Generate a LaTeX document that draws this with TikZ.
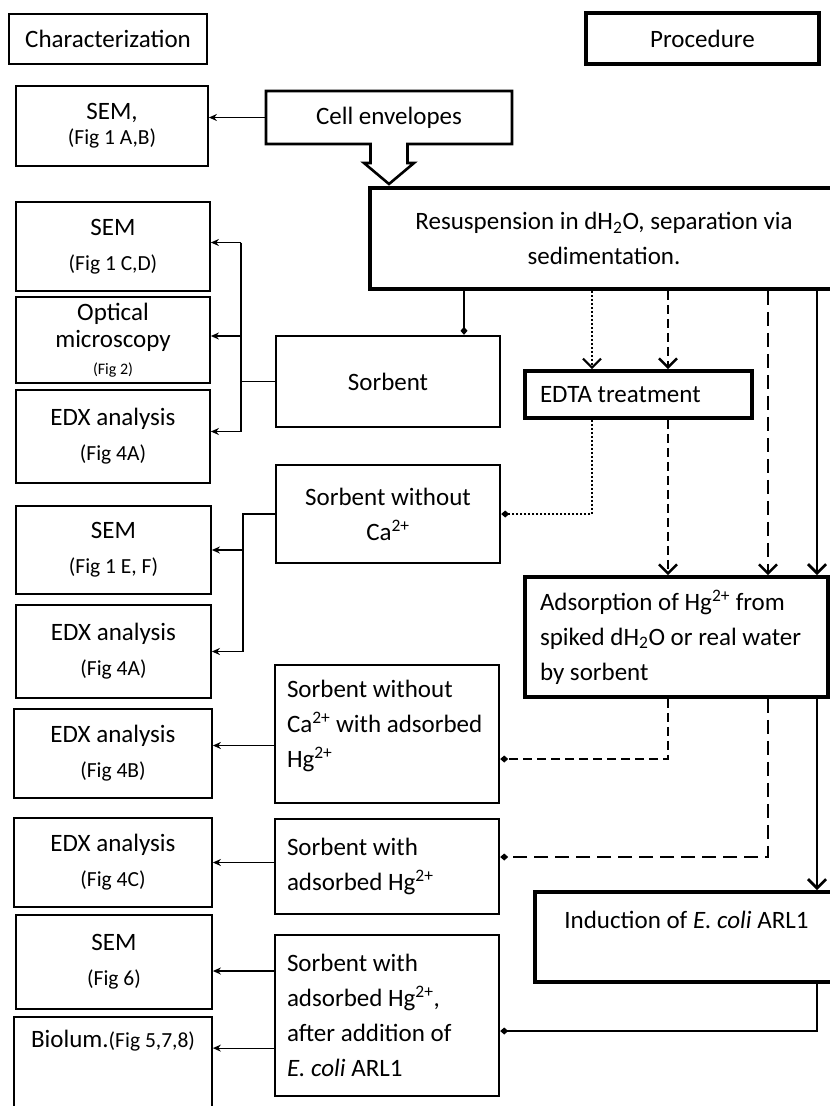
\documentclass[tikz,border=0pt]{standalone}
\usepackage{fontspec}
\setmainfont{Carlito}
\usepackage{tikz}
\usetikzlibrary{calc,arrows.meta}

\newcommand{\figtext}[1]{{\fontsize{21.5}{35}\selectfont #1}}
\newcommand{\ion}[1]{\textsuperscript{#1}}

\begin{document}
\begin{tikzpicture}[x=1pt, y=-1pt, font=\fontsize{25}{35}\selectfont,
    charbox/.style={draw, line width=1.8pt, inner sep=0pt, align=center},
    sorbbox/.style={draw, line width=2.4pt, inner sep=0pt, align=center},
    procbox/.style={draw, line width=3.6pt, inner sep=0pt, align=center},
    charlink/.style={line width=1.2pt, -{Stealth[length=8pt, width=7pt]}},
    charfork/.style={line width=1.2pt},
    openhead/.style={-{Straight Barb[length=9pt, width=18pt]}},
    endmark/.style={-{Diamond[length=8pt, width=7pt]}},
    dotlane/.style={line width=2.2pt, dash pattern=on 2pt off 2pt},
    dashlane/.style={line width=2.6pt, dash pattern=on 9pt off 5pt},
    longlane/.style={line width=2.6pt, dash pattern=on 14pt off 7pt},
    solidlane/.style={line width=2.8pt}]
  \path[use as bounding box, clip] (0,0) rectangle (830,1106);

  % characterization column
  \node[charbox, minimum width=198pt, minimum height=50pt] (charhead) at (108,39) {Characterization};
  \node[charbox, minimum width=192pt, minimum height=80pt] (sem1) at (112,126) {SEM,\\[-10pt]\figtext{(Fig 1 A,B)}};
  \node[charbox, minimum width=194pt, minimum height=89pt] (sem2) at (113,246.5) {SEM\\\figtext{(Fig 1 C,D)}};
  \node[charbox, minimum width=194pt, minimum height=86pt] (optical) at (113,340) {Optical\\[-8pt]microscopy\\[-8pt]{\fontsize{16}{20}\selectfont (Fig 2)}};
  \node[charbox, minimum width=194pt, minimum height=93pt] (edx1) at (113,436.5) {EDX analysis\\\figtext{(Fig 4A)}};
  \node[charbox, minimum width=195pt, minimum height=88pt] (sem3) at (113.5,550) {SEM\\\figtext{(Fig 1 E, F)}};
  \node[charbox, minimum width=195pt, minimum height=93pt] (edx2) at (113.5,651.5) {EDX analysis\\\figtext{(Fig 4A)}};
  \node[charbox, minimum width=198pt, minimum height=89pt] (edxB) at (113,753.5) {EDX analysis\\\figtext{(Fig 4B)}};
  \node[charbox, minimum width=198pt, minimum height=89pt] (edxC) at (113,862.5) {EDX analysis\\\figtext{(Fig 4C)}};
  \node[charbox, minimum width=196pt, minimum height=94pt] (sem4) at (114,962) {SEM\\\figtext{(Fig 6)}};
  \node[charbox, minimum width=198pt, minimum height=113pt] (biolum) at (113,1073.5) {Biolum.\figtext{(Fig 5,7,8)}\\\mbox{}\\\mbox{}};

  % sorbent column
  \node[minimum width=246pt, minimum height=53pt, inner sep=0pt, outer sep=0pt] (cell) at (389,117.5) {Cell envelopes};
  \node[sorbbox, minimum width=224pt, minimum height=91pt] (sorbent) at (388,381.5) {Sorbent};
  \node[sorbbox, minimum width=224pt, minimum height=98pt] (noca) at (388,514) {Sorbent without\\Ca\ion{2+}};
  \node[sorbbox, align=flush left, inner xsep=12pt, text width=200pt, minimum height=138pt] (nocahg) at (387,734) {Sorbent without\\\mbox{Ca\ion{2+} with adsorbed}\\Hg\ion{2+}\\[-15pt]\mbox{}};
  \node[sorbbox, align=flush left, inner xsep=12pt, text width=200pt, minimum height=95pt] (sorbhg) at (387,866.5) {Sorbent with\\adsorbed Hg\ion{2+}};
  \node[sorbbox, align=flush left, inner xsep=12pt, text width=200pt, minimum height=161pt] (sorbcoli) at (387,1015.5) {Sorbent with\\adsorbed Hg\ion{2+},\\after addition of\\\emph{E. coli} ARL1};

  % procedure column
  \node[procbox, minimum width=233pt, minimum height=51pt] (procedure) at (702.5,38.5) {Procedure};
  \node[procbox, minimum width=468pt, minimum height=101pt] (resus) at (604,238.5) {Resuspension in dH\textsubscript{2}O, separation via\\sedimentation.};
  \node[procbox, align=flush left, inner xsep=15pt, text width=197pt, minimum height=47pt] (edta) at (638.5,394.5) {EDTA treatment};
  \node[procbox, align=flush left, inner xsep=15pt, text width=273pt, minimum height=120pt] (adsorb) at (676.5,637) {Adsorption of Hg\ion{2+} from\\\mbox{spiked dH\textsubscript{2}O or real water}\\by sorbent};
  \node[procbox, minimum width=303pt, minimum height=90pt] (induct) at (686.5,937) {Induction of \emph{E. coli} ARL1\\\mbox{}};

  \coordinate (forkA) at (241,0);
  \coordinate (forkB) at (243,0);
  \coordinate (laneA) at (464,0);
  \coordinate (laneB) at (592,0);
  \coordinate (laneC) at (668,0);
  \coordinate (laneD) at (768,0);
  \coordinate (laneE) at (817,0);

  % cell envelopes with its block arrow
  \draw[line width=2.6pt, line join=miter] (cell.north west) -- (cell.north east) -- (cell.south east)
    -- ([xshift=18.5pt]cell.south) -- ++(0,19) -- ++(6.5,0) -- ([yshift=-40pt]cell.south)
    -- ([xshift=-25pt, yshift=-19pt]cell.south) -- ++(6.5,0) -- ([xshift=-18.5pt]cell.south)
    -- (cell.south west) -- cycle;

  % characterization links
  \draw[charlink] (cell.west) -- (cell.west -| sem1.east);
  \draw[charfork] (sorbent.west) -- (sorbent.west -| forkA);
  \draw[charfork] ($(sem2.east -| forkA)+(0,-4)$) -- ($(edx1.east -| forkA)+(0,-5)$);
  \foreach \cn/\dy in {sem2/-4, optical/-4, edx1/-5}
    \draw[charlink] ($(\cn.east -| forkA)+(0,\dy)$) -- ($(\cn.east)+(0,\dy)$);
  \draw[charfork] (noca.west) -| (edx2.east -| forkB);
  \foreach \cn in {sem3, edx2}
    \draw[charlink] (\cn.east -| forkB) -- (\cn.east);
  \draw[charlink] ($(edxB.east -| nocahg.west)+(0,-8)$) -- ($(edxB.east)+(0,-8)$);
  \draw[charlink] (edxC.east -| sorbhg.west) -- (edxC.east);
  \draw[charlink] ($(sem4.east -| sorbcoli.west)+(0,9)$) -- ($(sem4.east)+(0,9)$);
  \draw[charlink] ($(biolum.north east -| sorbcoli.west)+(0,32)$) -- ($(biolum.north east)+(0,32)$);

  % procedure lanes
  \draw[line width=1.4pt, endmark] (resus.south -| laneA) -- (sorbent.north -| laneA);
  \draw[dotlane, openhead] (resus.south -| laneB) -- (edta.north -| laneB);
  \draw[dotlane, endmark] (edta.south -| laneB) |- (noca.east);
  \draw[dashlane, openhead] (resus.south -| laneC) -- (edta.north -| laneC);
  \draw[dashlane, openhead] (edta.south -| laneC) -- (adsorb.north -| laneC);
  \draw[dashlane, endmark] (adsorb.south -| laneC) |- ($(nocahg.east)+(0,25)$);
  \draw[longlane, openhead] (resus.south -| laneD) -- (adsorb.north -| laneD);
  \draw[longlane, endmark] (adsorb.south -| laneD) |- ($(sorbhg.east)+(0,-9.5)$);
  \draw[solidlane, openhead] (resus.south -| laneE) -- (adsorb.north -| laneE);
  \draw[solidlane, openhead] (adsorb.south -| laneE) -- (induct.north -| laneE);
  \draw[solidlane, endmark] (induct.south -| laneE) |- ($(sorbcoli.east)+(0,15.5)$);
\end{tikzpicture}
\end{document}
